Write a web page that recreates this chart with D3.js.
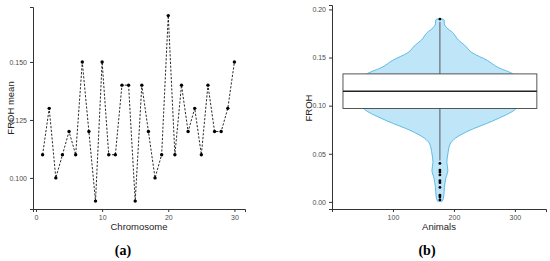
<!DOCTYPE html>
<head>
   <meta charset="utf-8">
   <script src="https://d3js.org/d3.v7.min.js"></script>
   <style>
   body{ margin: 0; background: #fff; }
   text{ font-family: "Liberation Sans", Arial, sans-serif; }
   .tick text{ font-size: 7px; fill: #4d4d4d; }
   .tick line{ stroke: #333; }
   path.domain{ stroke: #333; }
   text.axTitle{ font-size: 9.5px; fill: #222; }
   text.panel{ font-family: "Liberation Serif", serif; font-weight: 700; font-size: 14px; }
   </style>
</head>
<body>
<script>
// (a) FROH mean per chromosome
const chromosomes = d3.range(1, 31);
const frohMean = [0.11, 0.13, 0.10, 0.11, 0.12, 0.11, 0.15, 0.12, 0.09, 0.15,
                  0.11, 0.11, 0.14, 0.14, 0.09, 0.14, 0.12, 0.10, 0.11, 0.17,
                  0.11, 0.14, 0.12, 0.13, 0.11, 0.14, 0.12, 0.12, 0.13, 0.15];
const aTicksX = [0, 10, 20, 30];
const aTicksY = [0.100, 0.125, 0.150];

// (b) FROH distribution across animals
const violinFroh    = [0.190, 0.189, 0.185, 0.181, 0.176, 0.168, 0.163, 0.155, 0.147, 0.140, 0.133, 0.115,
                       0.097, 0.084, 0.0735, 0.066, 0.060, 0.050, 0.041, 0.033, 0.0245, 0.015, 0.007, 0.001, 0.0005];
const violinDensity = [0.035, 0.05, 0.053, 0.08, 0.15, 0.22, 0.29, 0.38, 0.56, 0.68, 0.86, 1.0,
                       0.90, 0.62, 0.33, 0.18, 0.12, 0.094, 0.082, 0.094, 0.07, 0.053, 0.047, 0.03, 0.02];
const boxStats = {lower: 0.043, q1: 0.097, median: 0.115, q3: 0.133, upper: 0.187};
const outliers = [0.190, 0.040, 0.033, 0.031, 0.028, 0.022, 0.020, 0.015, 0.007, 0.005, 0.002];
const animalsCenter = 177;
const boxHalfWidth = 159;
const violinHalfWidth = 139;
const bTicksX = [100, 200, 300];
const bTicksY = [0.00, 0.05, 0.10, 0.15, 0.20];

const width = 550, height = 261;
const svg = d3.select("body").append("svg")
   .attr("width", width)
   .attr("height", height);

// ---------- panel a ----------
const xa = d3.scaleLinear().domain([-0.45, 31.6]).range([33, 245]);
const ya = d3.scaleLinear().domain([0.0866, 0.1737]).range([209, 7]);

const ga = svg.append("g");

ga.append("g")
   .attr("transform", "translate(0,209)")
   .call(d3.axisBottom(xa).tickValues(aTicksX).tickSize(3).tickPadding(3).tickFormat(d3.format("d")));

ga.append("g")
   .attr("transform", "translate(33,0)")
   .call(d3.axisLeft(ya).tickValues(aTicksY).tickSize(3).tickPadding(3).tickFormat(d3.format(".3f")));

ga.selectAll("path.domain").attr("stroke-width", 1);

const pts = chromosomes.map((c, i) => ({c: c, v: frohMean[i]}));

ga.append("path")
   .datum(pts)
   .attr("fill", "none")
   .attr("stroke", "#111")
   .attr("stroke-width", 0.9)
   .attr("stroke-dasharray", "2.2,1.6")
   .attr("d", d3.line().x(d => xa(d.c)).y(d => ya(d.v)));

ga.selectAll("circle.pt")
   .data(pts)
   .enter()
   .append("circle")
   .attr("class", "pt")
   .attr("cx", d => xa(d.c))
   .attr("cy", d => ya(d.v))
   .attr("r", 1.7)
   .attr("fill", "#000");

ga.append("text")
   .attr("class", "axTitle")
   .attr("transform", "translate(14,108) rotate(-90)")
   .style("text-anchor", "middle")
   .text("FROH mean");

ga.append("text")
   .attr("class", "axTitle")
   .attr("x", 139)
   .attr("y", 230)
   .style("text-anchor", "middle")
   .text("Chromosome");

ga.append("text")
   .attr("class", "panel")
   .attr("x", 123)
   .attr("y", 255)
   .style("text-anchor", "middle")
   .text("(a)");

// ---------- panel b ----------
const xb = d3.scaleLinear().domain([0, 351]).range([332, 546]);
const yb = d3.scaleLinear().domain([-0.0074, 0.2046]).range([209, 5]);

const gb = svg.append("g");

gb.append("g")
   .attr("transform", "translate(0,209)")
   .call(d3.axisBottom(xb).tickValues(bTicksX).tickSize(3).tickPadding(3).tickFormat(d3.format("d")));

gb.append("g")
   .attr("transform", "translate(332,0)")
   .call(d3.axisLeft(yb).tickValues(bTicksY).tickSize(3).tickPadding(3).tickFormat(d3.format(".2f")));

const violin = violinFroh.map((v, i) => ({v: v, d: violinDensity[i]}));

gb.append("path")
   .datum(violin)
   .attr("fill", "#bfe6f8")
   .attr("stroke", "#4fb3e3")
   .attr("stroke-width", 0.9)
   .attr("d", d3.area()
      .curve(d3.curveMonotoneY)
      .y(d => yb(d.v))
      .x0(d => xb(animalsCenter - d.d * violinHalfWidth))
      .x1(d => xb(animalsCenter + d.d * violinHalfWidth)));

// whiskers
gb.append("line")
   .attr("x1", xb(animalsCenter)).attr("x2", xb(animalsCenter))
   .attr("y1", yb(boxStats.q3)).attr("y2", yb(boxStats.upper))
   .attr("stroke", "#444").attr("stroke-width", 0.9);
gb.append("line")
   .attr("x1", xb(animalsCenter)).attr("x2", xb(animalsCenter))
   .attr("y1", yb(boxStats.q1)).attr("y2", yb(boxStats.lower))
   .attr("stroke", "#444").attr("stroke-width", 0.9);

gb.append("rect")
   .attr("x", xb(animalsCenter - boxHalfWidth))
   .attr("width", xb(animalsCenter + boxHalfWidth) - xb(animalsCenter - boxHalfWidth))
   .attr("y", yb(boxStats.q3))
   .attr("height", yb(boxStats.q1) - yb(boxStats.q3))
   .attr("fill", "#fff")
   .attr("stroke", "#444")
   .attr("stroke-width", 0.9);

gb.append("line")
   .attr("x1", xb(animalsCenter - boxHalfWidth)).attr("x2", xb(animalsCenter + boxHalfWidth))
   .attr("y1", yb(boxStats.median)).attr("y2", yb(boxStats.median))
   .attr("stroke", "#222").attr("stroke-width", 1.6);

gb.selectAll("circle.out")
   .data(outliers)
   .enter()
   .append("circle")
   .attr("class", "out")
   .attr("cx", xb(animalsCenter))
   .attr("cy", d => yb(d))
   .attr("r", 1.4)
   .attr("fill", "#000");

gb.append("text")
   .attr("class", "axTitle")
   .attr("transform", "translate(312,108) rotate(-90)")
   .style("text-anchor", "middle")
   .text("FROH");

gb.append("text")
   .attr("class", "axTitle")
   .attr("x", 439)
   .attr("y", 230)
   .style("text-anchor", "middle")
   .text("Animals");

gb.append("text")
   .attr("class", "panel")
   .attr("x", 427)
   .attr("y", 255)
   .style("text-anchor", "middle")
   .text("(b)");
</script>
</body>
